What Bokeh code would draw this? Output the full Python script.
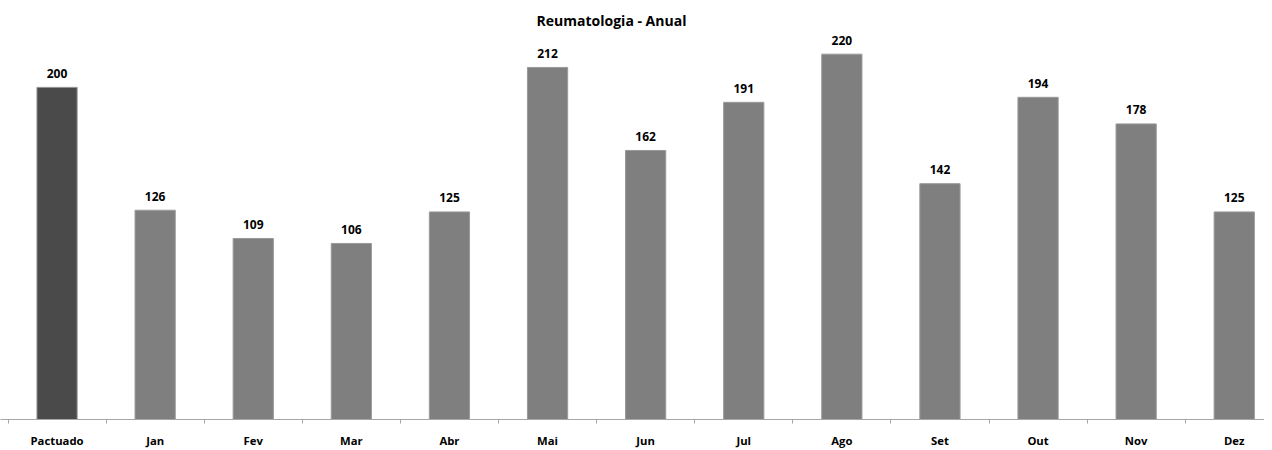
from bokeh.plotting import figure
from bokeh.models import Range1d, FixedTicker, ColumnDataSource, Label
from bokeh.core.properties import value
from bokeh.embed import file_html
from bokeh.resources import INLINE

categories = ["Pactuado", "Jan", "Fev", "Mar", "Abr", "Mai", "Jun", "Jul", "Ago", "Set", "Out", "Nov", "Dez"]
values = [200, 126, 109, 106, 125, 212, 162, 191, 220, 142, 194, 178, 125]
colors = ["#4a4a4a"] + ["#7f7f7f"] * 12
title_text = "Reumatologia - Anual"

xs = list(range(len(categories)))
src = ColumnDataSource(dict(x=xs, top=values, color=colors, label=[str(v) for v in values]))

PX = 98.1
x0 = -0.5 - 7.5 / PX
p = figure(width=1264, height=450, output_backend="svg", toolbar_location=None,
           x_range=Range1d(x0, x0 + 1264 / PX), y_range=Range1d(0, 252.3),
           min_border_left=0, min_border_right=0, min_border_top=0, min_border_bottom=0)
p.outline_line_color = None
p.xgrid.visible = False
p.ygrid.visible = False
p.yaxis.visible = False
p.background_fill_color = "white"
p.border_fill_color = "white"

p.vbar(x="x", top="top", width=0.41, fill_color="color", line_color="#9a9a9a", line_width=1, source=src)

p.text(x="x", y="top", text="label", source=src, text_align="center", text_baseline="middle",
       y_offset=-14, text_font=value("Open Sans"), text_font_style="bold", text_font_size="12px",
       text_color="black")

ax = p.xaxis[0]
ax.ticker = FixedTicker(ticks=xs, minor_ticks=[i - 0.5 for i in range(len(categories) + 1)])
ax.major_label_overrides = {i: c for i, c in enumerate(categories)}
ax.axis_line_color = "#a6a6a6"
ax.axis_line_width = 1
ax.major_tick_line_color = None
ax.major_tick_out = 0
ax.major_tick_in = 0
ax.minor_tick_line_color = "#a6a6a6"
ax.minor_tick_out = 4
ax.minor_tick_in = 0
ax.major_label_standoff = 9
ax.major_label_text_font = "Open Sans"
ax.major_label_text_font_style = "bold"
ax.major_label_text_font_size = "11.3px"
ax.major_label_text_color = "black"

p.add_layout(Label(x=x0 + 611 / PX, y=(420 - 20) / 1.665, text=title_text, text_align="center",
                   text_baseline="middle", text_font="Open Sans", text_font_style="bold",
                   text_font_size="14px", text_color="black"))

open("out.html", "w").write(file_html(p, INLINE))
